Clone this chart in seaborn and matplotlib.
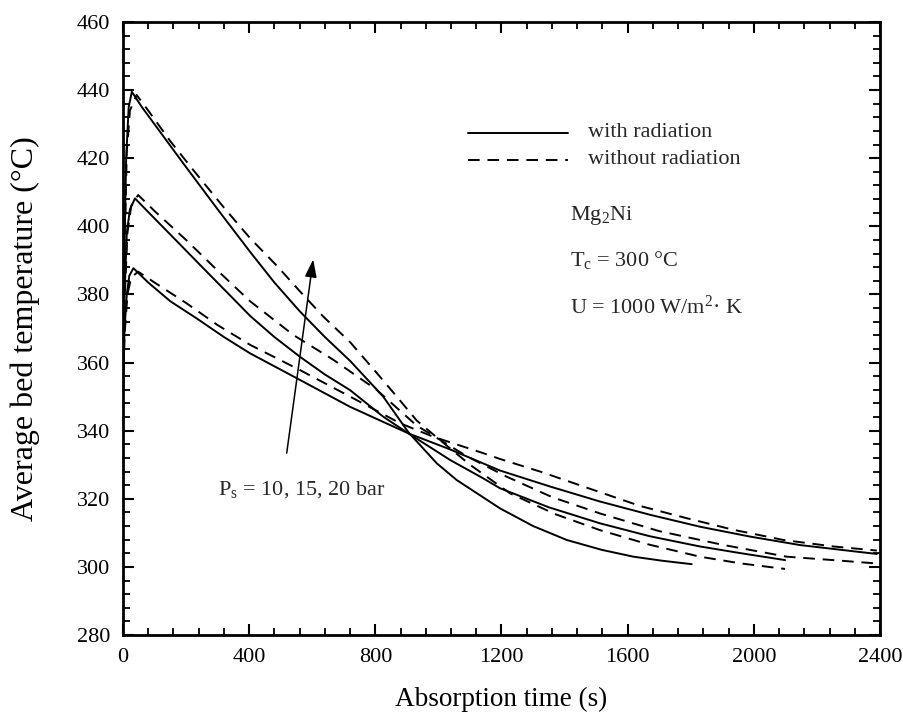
import numpy as np
import pandas as pd
import seaborn as sns
import matplotlib
matplotlib.use("Agg")
import matplotlib.pyplot as plt
from matplotlib.ticker import MultipleLocator

# ---------------- data ----------------
t20s = [0, 5, 10, 18, 28, 60, 110, 191, 300, 403, 480, 561, 640, 720, 825, 905, 995, 1058, 1195, 1300, 1407, 1518, 1618, 1710, 1803]
T20s = [352, 395, 420, 435, 439.5, 435, 428.7, 418.5, 405, 392.5, 383.5, 375, 367.5, 360.5, 350, 339.5, 330.4, 325.5, 317.2, 312, 307.9, 305, 303, 301.8, 300.8]

t20d = [0, 5, 12, 22, 43, 80, 150, 223, 320, 403, 487, 560, 635, 720, 804, 868, 931, 995, 1100, 1227, 1370, 1512, 1670, 1829, 1960, 2099]
T20d = [352, 392, 422, 434, 438.6, 434, 425, 416.5, 405.5, 396.5, 388.5, 381, 373.5, 366, 357, 350, 343, 338, 330, 321.6, 315.5, 310.8, 306.5, 303, 301, 299.4]

t15s = [0, 5, 12, 22, 38, 80, 150, 244, 330, 403, 480, 561, 640, 720, 825, 905, 1037, 1142, 1195, 1350, 1512, 1670, 1829, 1960, 2099]
T15s = [352, 380, 398, 405, 408.2, 404.2, 397.6, 388.7, 380.6, 373.7, 367.5, 361.7, 356.5, 351.9, 344.1, 339.2, 331.4, 326, 323.1, 317.5, 312.8, 309, 306, 304, 302]

t15d = [0, 5, 14, 26, 48, 100, 200, 300, 403, 540, 667, 804, 931, 1090, 1216, 1360, 1512, 1700, 1900, 2104, 2250, 2390]
T15d = [352, 378, 398, 406, 409.2, 404.5, 396, 387, 378, 368.1, 360.8, 352, 341.5, 332.5, 326.5, 320.5, 315.7, 310.5, 306.5, 303, 302, 301]

t10s = [0, 5, 12, 20, 33, 80, 150, 233, 320, 403, 561, 720, 905, 1037, 1195, 1354, 1512, 1671, 1829, 1988, 2147, 2305, 2390]
T10s = [352, 370, 380, 385.5, 387.7, 383.5, 378, 373, 367.5, 362.7, 354.9, 347, 339.2, 334.5, 328.3, 323.6, 319.2, 315.3, 311.8, 308.9, 306.4, 304.7, 303.8]

t10d = [0, 5, 14, 26, 48, 100, 200, 300, 403, 561, 720, 878, 984, 1142, 1195, 1322, 1460, 1639, 1787, 1935, 2094, 2252, 2390]
T10d = [352, 368, 380, 385, 386.7, 383.5, 377.5, 371, 365.2, 357.8, 350, 342.2, 338.2, 333.4, 331.7, 328.0, 323.6, 317.9, 314.3, 310.9, 307.9, 306.0, 304.8]

x_ticks = [0, 400, 800, 1200, 1600, 2000, 2400]
y_ticks = [280, 300, 320, 340, 360, 380, 400, 420, 440, 460]

curves = [
    ("20 bar", "with radiation", t20s, T20s),
    ("20 bar", "without radiation", t20d, T20d),
    ("15 bar", "with radiation", t15s, T15s),
    ("15 bar", "without radiation", t15d, T15d),
    ("10 bar", "with radiation", t10s, T10s),
    ("10 bar", "without radiation", t10d, T10d),
]
frames = []
for p, r, t, T in curves:
    frames.append(pd.DataFrame({"time": t, "temp": T, "pressure": p, "radiation": r}))
df = pd.concat(frames, ignore_index=True)

# ---------------- style ----------------
sns.set_theme(style="ticks")
plt.rcParams["font.family"] = ["Liberation Serif", "DejaVu Serif"]
plt.rcParams["mathtext.default"] = "regular"

fig = plt.figure(figsize=(9.04, 7.19), dpi=100)
ax = fig.add_axes([123 / 904, 1 - 635 / 719, 757 / 904, 613 / 719])

for (p, r), g in df.groupby(["pressure", "radiation"], sort=False):
    ls = "-" if r == "with radiation" else (0, (6, 4))
    sns.lineplot(data=g, x="time", y="temp", ax=ax, color="black",
                 linewidth=1.4, linestyle=ls, sort=False, estimator=None,
                 legend=False)

ax.set_xlim(0, 2400)
ax.set_ylim(280, 460)
ax.set_xticks(x_ticks)
ax.set_yticks(y_ticks)
ax.xaxis.set_minor_locator(MultipleLocator(80))
ax.yaxis.set_minor_locator(MultipleLocator(4))
ax.tick_params(which="both", direction="in", top=True, right=True,
               labelsize=16, colors="black", pad=9)
ax.tick_params(which="major", length=8, width=1.5)
ax.tick_params(which="minor", length=5, width=1.3)
for s in ax.spines.values():
    s.set_linewidth(2.0)
    s.set_color("black")

ax.set_xlabel("Absorption time (s)", fontsize=19.5, color="black")
ax.set_ylabel("Average bed temperature (°C)", fontsize=23, color="black")
ax.xaxis.set_label_coords(0.5, -0.085)
ax.yaxis.set_label_coords(-0.11, 0.5)

# legend drawn as lines + text
ax.plot([1094, 1411], [427.5, 427.5], color="black", lw=1.4)
ax.plot([1094, 1411], [419.5, 419.5], color="black", lw=1.4, linestyle=(0, (6, 4)))
ax.text(1474, 427.5, "with radiation", fontsize=16, va="center", ha="left")
ax.text(1474, 419.5, "without radiation", fontsize=16, va="center", ha="left")

ax.text(1417, 403.3, "Mg$_2$Ni", fontsize=16, va="center", ha="left")
ax.text(1417, 390.1, "T$_c$ = 300 °C", fontsize=16, va="center", ha="left")
ax.text(1417, 376.4, "U = 1000 W/m$^2$· K", fontsize=16, va="center", ha="left")

ax.text(301, 322.6, "P$_s$ = 10, 15, 20 bar", fontsize=16, va="center", ha="left")
ax.annotate("", xy=(603, 390.3), xytext=(519, 333.4),
            arrowprops=dict(arrowstyle="-|>,head_length=0.9,head_width=0.3",
                            color="black", lw=1.1, shrinkA=0, shrinkB=0))

fig.savefig("out.png", dpi=100, facecolor="white")
